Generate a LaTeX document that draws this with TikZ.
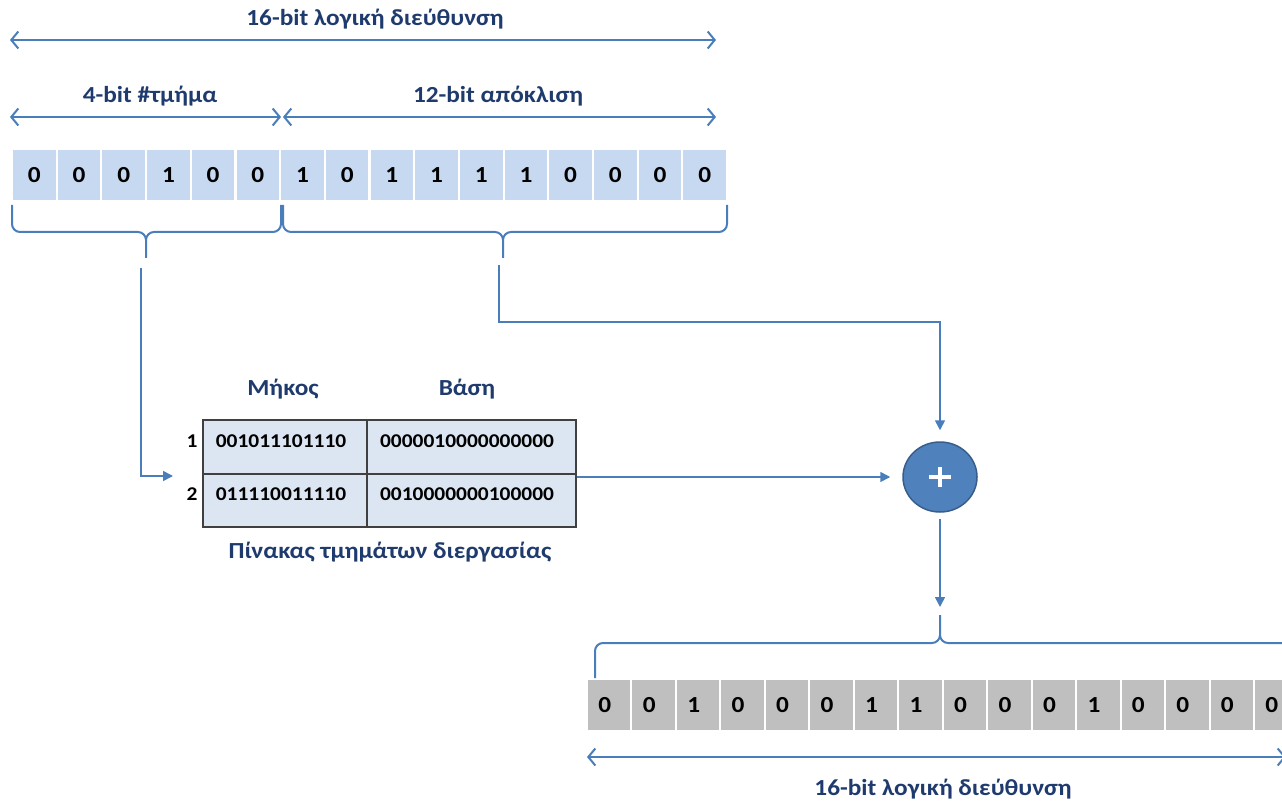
\documentclass[tikz,border=0pt]{standalone}
\usepackage{fontspec}
\setmainfont{Carlito}[FakeStretch=1.1]
\usetikzlibrary{arrows.meta,calc,shapes.geometric}
\definecolor{navy}{HTML}{1F3B6E}
\definecolor{linkblue}{HTML}{4A7EBB}
\definecolor{bitblue}{HTML}{C6D9F1}
\definecolor{bitgrey}{HTML}{BFBFBF}
\definecolor{tabfill}{HTML}{DCE6F2}
\definecolor{tabedge}{HTML}{404040}
\definecolor{sumfill}{HTML}{4F81BD}
\definecolor{sumedge}{HTML}{385D8A}
\begin{document}
\begin{tikzpicture}[x=1pt,y=-1pt,
  lbl/.style={text=navy,font=\fontsize{23}{26}\selectfont\bfseries,inner sep=0},
  bitcell/.style={minimum width=42.5pt,minimum height=50pt,inner sep=0},
  bitdigit/.style={inner sep=0,font=\fontsize{23}{25}\selectfont\bfseries,text=black},
  span/.style={draw=linkblue,line width=2pt,
    {Straight Barb[length=7pt,width=17pt]}-{Straight Barb[length=7pt,width=17pt]}},
  bracepath/.style={draw=linkblue,line width=2pt,rounded corners=8pt},
  conn/.style={draw=linkblue,line width=1.6pt,-{Triangle[length=10pt,width=10pt]}},
  tabtext/.style={font=\fontsize{19.5}{22}\selectfont\bfseries,text=black,inner sep=0}]
\useasboundingbox (0,0) rectangle (1282,802);

% logical address: bit cells
\foreach \b [count=\i] in {0,0,0,1,0,0,1,0,1,1,1,1,0,0,0,0}{
  \node[bitcell,fill=bitblue] (t\i) at ({12+44.69*(\i-0.5)},175) {};
  \node[bitdigit] (td\i) at (t\i.center) {\b};
}

% spans above the logical address
\node[lbl] (alllbl) at (375,19) {16-bit λογική διεύθυνση};
\coordinate (a0) at (10,40);
\coordinate (a1) at (716,40);
\draw[span] (a0) -- (a1);
\node[lbl] (seglbl) at (150,96) {4-bit \#τμήμα};
\node[lbl] (offlbl) at (498,96) {12-bit απόκλιση};
\coordinate (s0) at (10,117);
\coordinate (s1) at (281,117);
\coordinate (o0) at (283,117);
\coordinate (o1) at (716,117);
\draw[span] (s0) -- (s1);
\draw[span] (o0) -- (o1);

% braces under the two fields
\draw[bracepath] (12,205) |- (146,232) -- (146,258)
                 (146,258) -- (146,232) -| (281,205);
\draw[bracepath] (283,205) |- (503,232) -- (503,258)
                 (503,258) -- (503,232) -| (727,205);

% segment table
\node[draw=tabedge,line width=1.3pt,fill=tabfill,minimum width=373pt,
      minimum height=107pt,inner sep=0] (tab) at (389.5,473.5) {};
\draw[tabedge,line width=1.3pt] (367,420) -- (367,527);
\draw[tabedge,line width=1.3pt] (203,474) -- (576,474);
\node[lbl] (hlen) at (283,389) {Μήκος};
\node[lbl] (hbase) at (467,389) {Βάση};
\node[tabtext] (r1) at (192,441) {1};
\node[tabtext] (r2) at (192,494) {2};
\node[tabtext] (len1) at (281,441) {001011101110};
\node[tabtext] (base1) at (467,441) {0000010000000000};
\node[tabtext] (len2) at (281,494) {011110011110};
\node[tabtext] (base2) at (467,494) {0010000000100000};
\node[lbl] (tabcap) at (390,552) {Πίνακας τμημάτων διεργασίας};

% adder
\node[ellipse,draw=sumedge,line width=1.5pt,fill=sumfill,minimum width=74pt,
      minimum height=70pt,inner sep=0] (plus) at (940,477) {};
\draw[white,line width=4.5pt] ($(plus.center)+(-11,0)$) -- ($(plus.center)+(11,0)$);
\draw[white,line width=4.5pt] ($(plus.center)+(0,-10)$) -- ($(plus.center)+(0,10)$);

% connectors
\coordinate (segtip) at (141,268);
\coordinate (offtip) at (499,265);
\coordinate (tabin) at (173,476);
\coordinate (outtip) at (940,607);
\draw[conn] (segtip) |- (tabin);
\draw[conn,shorten >=11pt] (offtip) -- (499,322) -| (plus.north);
\draw[conn,shorten >=12pt] (tab.east |- plus.west) -- (plus.west);
\draw[conn,shorten <=6pt] (plus.south) -- (outtip);

% physical address
\draw[bracepath] (595,678) |- (940,643) -- (940,615)
                 (940,615) -- (940,643) -| (1300,678);
\foreach \b [count=\i] in {0,0,1,0,0,0,1,1,0,0,0,1,0,0,0,0}{
  \node[bitcell,fill=bitgrey] (p\i) at ({587+44.47*(\i-0.5)},705) {};
  \node[bitdigit] (pd\i) at ($(p\i.center)+(-4.5,0)$) {\b};
}
\coordinate (b0) at (587,757);
\coordinate (b1) at (1286,757);
\draw[span] (b0) -- (b1);
\node[lbl] (physlbl) at (943,789) {16-bit λογική διεύθυνση};
\end{tikzpicture}
\end{document}
